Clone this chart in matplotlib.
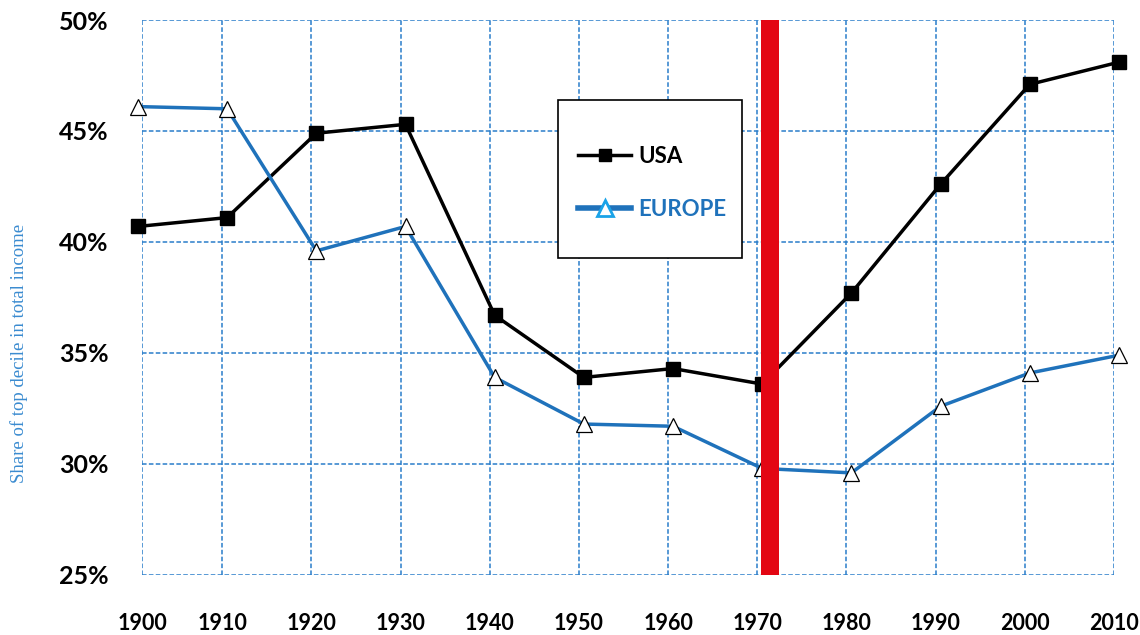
import matplotlib.pyplot as plt
from matplotlib.lines import Line2D
from matplotlib.patches import Rectangle

# Share of top decile in total income, %
years = [1900, 1910, 1920, 1930, 1940, 1950, 1960, 1970, 1980, 1990, 2000, 2010]
usa = [40.7, 41.1, 44.9, 45.3, 36.7, 33.9, 34.3, 33.6, 37.7, 42.6, 47.1, 48.1]
europe = [46.1, 46.0, 39.6, 40.7, 33.9, 31.8, 31.7, 29.8, 29.6, 32.6, 34.1, 34.9]
yticks = [25, 30, 35, 40, 45, 50]

grid_col = '#2a7dca'
blue = '#1f72bb'

fig = plt.figure(figsize=(11.4, 6.35), dpi=100)
ax = fig.add_axes([142 / 1140, 1 - 575 / 635, 972 / 1140, 555 / 635])

# gridlines sit slightly left of the data points in the original
xgrid = [1900.45] + [y - 0.55 for y in years[1:]]
ax.set_xlim(1900.45, 2009.45)
ax.set_ylim(25, 50)
ax.set_xticks(xgrid)
ax.set_xticklabels([str(y) for y in years])
ax.set_yticks(yticks)
ax.set_yticklabels([f'{v}%' for v in yticks])
ax.grid(True, color=grid_col, linestyle=(0, (3, 1.5)), linewidth=1.1)
for s in ax.spines.values():
    s.set_visible(False)
ax.tick_params(length=0, labelsize=15.5)
ax.tick_params(axis='x', pad=27)
ax.tick_params(axis='y', pad=24)
for lab in ax.get_xticklabels() + ax.get_yticklabels():
    lab.set_family('Lato')
    lab.set_fontweight('bold')
for lab in ax.get_yticklabels():
    lab.set_fontsize(18)

ax.plot(years, usa, color='black', lw=2.5, marker='s', ms=9.5,
        mfc='black', mec='black', clip_on=False, zorder=3)
ax.plot(years, europe, color=blue, lw=2.5, marker='^', ms=11,
        mfc='white', mec='black', mew=0.9, clip_on=False, zorder=3)

# red marker for 1970
ax.axvspan(1969.85, 1971.85, color='#e30613', zorder=4, lw=0)

ax.set_ylabel('Share of top decile in total income', family='Liberation Serif',
              fontsize=13.5, color='#3a8bd0', labelpad=0)
ax.yaxis.set_label_coords((17 - 142) / 972 + 0.011, 0.4)

# legend box
fig.patches.append(Rectangle((558 / 1140, 1 - 258 / 635), 184 / 1140, 158 / 635,
                             transform=fig.transFigure, fill=True, fc='white',
                             ec='black', lw=1.2, zorder=5))
handles = [
    Line2D([], [], color='black', lw=2.5, marker='s', ms=8, mfc='black', mec='black'),
    Line2D([], [], color=blue, lw=4, marker='^', ms=11, mfc='white',
           mec='#1aa3e8', mew=2),
]
leg = fig.legend(handles, ['USA', 'EUROPE'], loc='center',
                 bbox_to_anchor=(652 / 1140, 1 - 183 / 635), frameon=False,
                 handlelength=2.4, handletextpad=0.3, labelspacing=1.45,
                 prop={'family': 'Lato', 'weight': 'bold', 'size': 16},
                 labelcolor=['black', blue])
leg.set_zorder(6)

fig.savefig('out.png', dpi=100)
